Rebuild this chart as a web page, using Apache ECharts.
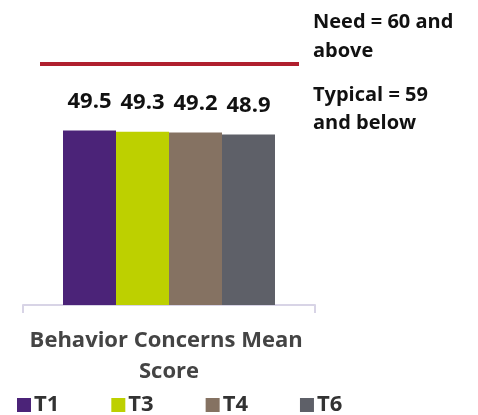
<!DOCTYPE html>
<html>
<head>
<meta charset="utf-8">
<script src="https://cdn.jsdelivr.net/npm/echarts@6/dist/echarts.min.js"></script>
<style>
  html, body { margin: 0; padding: 0; background: #fff; }
  #chart { width: 478px; height: 415px; }
</style>
</head>
<body>
<div id="chart"></div>
<script>
const categories = ['Behavior Concerns Mean Score']
const seriesNames = ['T1', 'T3', 'T4', 'T6']
const seriesValues = [[49.5], [49.3], [49.2], [48.9]]
const needValue = 60
const colors = ['#4b2378', '#bdd000', '#857262', '#5e6068']

const font = '"Open Sans", "Noto Sans", sans-serif'
let myChart = echarts.init(document.getElementById('chart'))

const barSeries = seriesNames.map((name, i) => ({
  name: name,
  type: 'bar',
  data: seriesValues[i],
  barWidth: 53,
  barGap: '0%',
  itemStyle: { color: colors[i] },
  label: {
    show: true,
    position: 'top',
    distance: 18,
    color: '#111',
    fontFamily: font,
    fontWeight: 'bold',
    fontSize: 22
  }
}))

myChart.setOption({
  animation: false,
  grid: [
    { left: 23, right: 163, top: 64, bottom: 110 },
    { left: 40, right: 179, top: 64, bottom: 110 }
  ],
  legend: {
    data: seriesNames,
    left: 12,
    bottom: -6,
    itemWidth: 14,
    itemHeight: 14,
    itemGap: 52,
    icon: 'rect',
    textStyle: { fontFamily: font, fontWeight: 'bold', fontSize: 22, color: '#333', padding: [0, 0, 0, -2] }
  },
  xAxis: [
    {
      type: 'category',
      data: categories,
      gridIndex: 0,
      axisLine: { lineStyle: { color: '#d8d4e6', width: 2 } },
      axisTick: { show: true, length: 8, lineStyle: { color: '#d8d4e6', width: 2 } },
      axisLabel: {
        margin: 20,
        width: 292,
        overflow: 'break',
        lineHeight: 31,
        color: '#444',
        fontFamily: font,
        fontWeight: 'bold',
        fontSize: 22
      }
    },
    {
      type: 'category',
      data: ['', ''],
      gridIndex: 1,
      boundaryGap: false,
      show: false
    }
  ],
  yAxis: [
    { type: 'value', min: 22, max: 60, show: false, gridIndex: 0 },
    { type: 'value', min: 22, max: 60, show: false, gridIndex: 1 }
  ],
  graphic: [
    {
      type: 'text', left: 313, top: 8,
      style: { text: 'Need = 60 and\nabove', fontFamily: font, fontWeight: 'bold', fontSize: 20, lineHeight: 29, fill: '#111' }
    },
    {
      type: 'text', left: 313, top: 81,
      style: { text: 'Typical = 59\nand below', fontFamily: font, fontWeight: 'bold', fontSize: 20, lineHeight: 28, fill: '#111' }
    }
  ],
  series: [
    ...barSeries,
    {
      name: 'Need',
      type: 'line',
      xAxisIndex: 1,
      yAxisIndex: 1,
      data: [needValue, needValue],
      symbol: 'none',
      lineStyle: { color: '#b01f2e', width: 4 },
      silent: true
    }
  ]
})
</script>
</body>
</html>
